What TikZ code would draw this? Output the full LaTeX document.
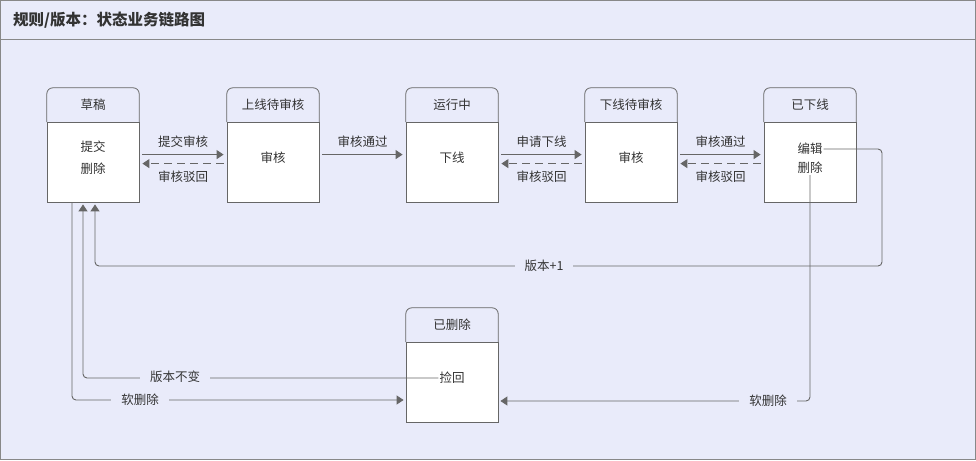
\documentclass[tikz,border=0pt]{standalone}
\usepackage{fontspec}
\setmainfont{Noto Sans CJK SC}
\usetikzlibrary{arrows.meta,calc}
\definecolor{bg}{HTML}{E9EBFA}
\definecolor{ln}{HTML}{666666}
\definecolor{tx}{HTML}{333333}
\definecolor{framec}{HTML}{888888}
\newcommand\fs{\fontsize{12.5}{15}\selectfont}
\newcommand\mystate[4]{%
  \node[body] (b#1) at (#2,#3+74) {};
  \node[hdr] (h#1) at (#2,#3+17) {#4};
  \draw[hdrline] (h#1.south west) -- (h#1.north west) -- (h#1.north east) -- (h#1.south east);
}
\begin{document}
\begin{tikzpicture}[x=1pt,y=-1pt,
  body/.style={draw=ln, fill=white, minimum width=92pt, minimum height=80pt, inner sep=0pt, line width=0.8pt},
  hdr/.style={minimum width=92pt, minimum height=34pt, inner sep=0pt, text=tx, font=\fs},
  hdrline/.style={draw=ln, line width=0.8pt, rounded corners=6pt},
  item/.style={text=tx, inner sep=1pt, font=\fs},
  conn/.style={draw=ln, line width=0.9pt, rounded corners=4pt},
  tip/.style={-{Triangle[length=7pt,width=9pt]}},
  gap/.style={shorten <=3pt, shorten >=3pt},
  lbl/.style={fill=bg, inner xsep=10pt, inner ysep=2pt, text=tx, font=\fs},
  elbl/.style={text=tx, inner sep=1pt, font=\fs},
  dsh/.style={dash pattern=on 8pt off 5pt}
]
\useasboundingbox (0,0) rectangle (976,460);
\fill[bg] (0,0) rectangle (976,460);
\draw[framec, line width=1.2pt] (0.6,0.6) rectangle (975.4,459.4);
\draw[framec, line width=1pt] (0,39.5) -- (976,39.5);
\node[anchor=west, inner sep=0pt, text=tx, font=\fontsize{15.5}{18}\selectfont\bfseries] (title) at (13,20) {规则/版本：状态业务链路图};

\mystate{1}{93}{88}{草稿}
\mystate{2}{273}{88}{上线待审核}
\mystate{3}{452}{88}{运行中}
\mystate{4}{631}{88}{下线待审核}
\mystate{5}{810}{88}{已下线}
\mystate{6}{452}{308}{已删除}

\node[item] (t1a) at (93,147) {提交};
\node[item] (t1b) at (93,169) {删除};
\node[item] (t2) at (273,158) {审核};
\node[item] (t3) at (452,158) {下线};
\node[item] (t4) at (631,158) {审核};
\node[item] (e5) at (810,149) {编辑};
\node[item] (d5) at (810,168) {删除};
\node[item] (j6) at (452,378) {捡回};

% horizontal transitions
\draw[conn,tip,gap] ([yshift=-33pt]b1.north east) -- ([yshift=-33pt]b2.north west) node[elbl, midway, yshift=13pt] (l1) {提交审核};
\draw[conn,tip,gap,dsh] ([yshift=-42pt]b2.north west) -- ([yshift=-42pt]b1.north east) node[elbl, midway, yshift=-13pt] (l2) {审核驳回};
\draw[conn,tip,gap] ([yshift=-33pt]b2.north east) -- ([yshift=-33pt]b3.north west) node[elbl, midway, yshift=13pt] (l3) {审核通过};
\draw[conn,tip,gap] ([yshift=-33pt]b3.north east) -- ([yshift=-33pt]b4.north west) node[elbl, midway, yshift=13pt] (l4) {申请下线};
\draw[conn,tip,gap,dsh] ([yshift=-42pt]b4.north west) -- ([yshift=-42pt]b3.north east) node[elbl, midway, yshift=-13pt] (l5) {审核驳回};
\draw[conn,tip,gap] ([yshift=-33pt]b4.north east) -- ([yshift=-33pt]b5.north west) node[elbl, midway, yshift=13pt] (l6) {审核通过};
\draw[conn,tip,gap,dsh] ([yshift=-42pt]b5.north west) -- ([yshift=-42pt]b4.north east) node[elbl, midway, yshift=-13pt] (l7) {审核驳回};

% long connectors
\coordinate (r1) at (882,266);
\draw[conn,tip,shorten >=2pt] (e5.east) -| (r1) -| ([xshift=2pt]b1.south);
\node[lbl] (v1) at (544,266) {版本+1};

\draw[conn,tip,shorten >=2pt] (d5.south) |- ([yshift=-19pt]b6.east);
\node[lbl] (v2) at (768,401) {软删除};

\draw[conn,tip,shorten >=2pt] (j6.west) -| ([xshift=-10pt]b1.south);
\node[lbl] (v3) at (175,377) {版本不变};

\draw[conn,tip,shorten >=2pt] ([xshift=-21pt]b1.south) |- ([yshift=-18pt]b6.west);
\node[lbl] (v4) at (140,400) {软删除};
\end{tikzpicture}
\end{document}
